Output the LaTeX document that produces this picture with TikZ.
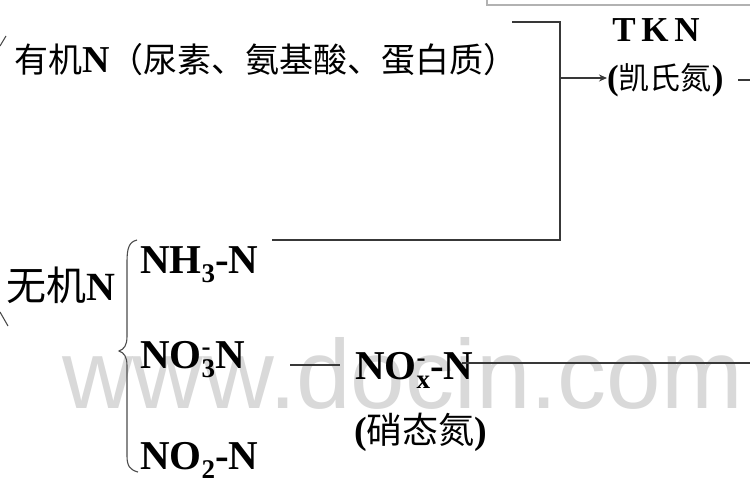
\documentclass[tikz,border=0pt]{standalone}
\usepackage{fontspec}
\setmainfont{Liberation Serif}
\newfontfamily\cjk{Noto Sans CJK SC}
\newfontfamily\wmfont{Liberation Sans}
\usetikzlibrary{arrows.meta}
\newcommand\sbsp[2]{{\fontsize{27}{27}\selectfont\rlap{\raisebox{-9pt}{#1}}\rlap{\raisebox{13pt}{#2}}\phantom{#1}}}
\newcommand\sbs[1]{{\fontsize{27}{27}\selectfont\raisebox{-9pt}{#1}}}
\begin{document}
\begin{tikzpicture}[x=1pt,y=-1pt,
  ln/.style={draw=black!78, line width=1.6pt},
  thin/.style={draw=black!70, line width=1.1pt},
  lat/.style={font=\fontsize{41}{42}\selectfont\bfseries, inner sep=0pt, anchor=west},
  zh/.style={font=\fontsize{34}{36}\selectfont\cjk, inner sep=0pt, anchor=west}
]
\useasboundingbox (0,0) rectangle (750,500);
\fill[white] (0,0) rectangle (750,500);
% watermark
\node[anchor=base west, inner sep=0pt, text=black!15, font=\wmfont\fontsize{98}{98}\selectfont] (wm) at (62,408) {www.docin.com};
% top gray box edge
\draw[draw=black!30, line width=1.2pt] (487,-2) -- (487,5) -- (752,5);
% fragments of outer brace at the left edge
\draw[thin] (0,46) -- (6,36);
\draw[thin] (0,312) -- (8,326);
% texts
\node[zh] (org) at (14,60) {有机{\rmfamily\bfseries\fontsize{38}{38}\selectfont N}（尿素、氨基酸、蛋白质）};
\node[lat, anchor=center, font=\fontsize{35}{36}\selectfont\bfseries] (tkn) at (656,30) {T\,K\,N};
\node[lat, font=\fontsize{35}{36}\selectfont\bfseries] (kai) at (607,80) {({\cjk\mdseries\fontsize{31}{34}\selectfont 凯氏氮})};
\node[zh, font=\fontsize{40}{40}\selectfont\cjk] (inorg) at (6,285) {无机{\rmfamily\bfseries\fontsize{40}{40}\selectfont N}};
\node[lat] (nh3) at (140,265) {NH\sbs{3}-N};
\node[lat] (no3) at (140,360) {NO\sbsp{3}{-}N};
\node[lat] (no2) at (140,460) {NO\sbs{2}-N};
\node[lat] (nox) at (355,370) {NO\sbsp{x}{-}-N};
\node[zh, font=\fontsize{36}{36}\selectfont\cjk] (xiao) at (354,432) {{\rmfamily\bfseries\fontsize{38}{38}\selectfont(}硝态氮{\rmfamily\bfseries\fontsize{38}{38}\selectfont)}};
% coordinates of the bracket
\coordinate (bt) at (512,22);
\coordinate (bc) at (560,22);
\coordinate (bb) at (560,240);
\coordinate (bl) at (272,240);
\coordinate (ba) at (560,78);
\coordinate (rr) at (752,80);
\coordinate (rl) at (738,80);
% bracket and arrow
\draw[ln] (bt) -- (bc) -- (bb) -- (bl);
\draw[ln, -{Stealth[length=8pt,width=7pt]}] (ba) -- (kai.west |- ba);
\draw[ln] (rl) -- (rr);
% brace of inorganic N
\draw[thin] (137,240) .. controls (129,242) and (127,248) .. (127,262)
  -- (127,336) .. controls (127,346) and (124,349) .. (119,351)
  .. controls (124,353) and (127,356) .. (127,366)
  -- (127,456) .. controls (127,466) and (130,470) .. (138,472);
% nitrate lines
\coordinate (nl) at (290,365);
\coordinate (nr) at (340,365);
\draw[ln] (nl) -- (nr);
\coordinate (xr) at (752,363);
\draw[ln] ([xshift=-12pt]nox.east |- xr) -- (xr);
\end{tikzpicture}
\end{document}
